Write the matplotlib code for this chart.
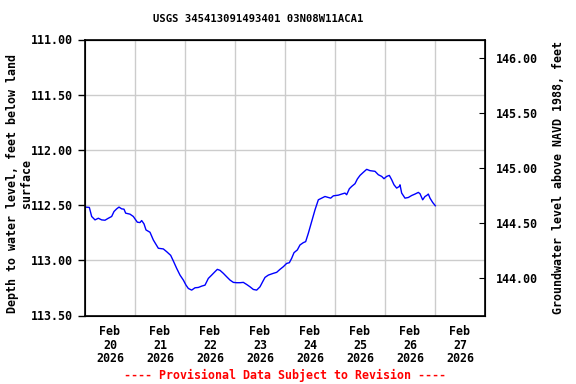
import matplotlib
matplotlib.use("Agg")
import matplotlib.pyplot as plt
import pandas as pd

title = "USGS 345413091493401 03N08W11ACA1"
start = "2026-02-20"
hours = [0.16, 2.08, 3.2, 4.8, 6.4, 8.0, 9.6, 11.2, 12.8, 13.92, 15.2, 16.32, 17.6, 18.72,
         19.52, 21.6, 23.2, 24.0, 25.12, 26.4, 27.2, 28.32, 29.28, 31.2, 32.8, 35.2, 37.6,
         39.2, 41.12, 42.4, 44.0, 45.6, 47.2, 48.48, 49.6, 51.2, 52.8, 54.4, 56.0, 57.6,
         59.2, 60.8, 62.4, 63.52, 64.8, 66.4, 68.0, 69.6, 71.2, 72.8, 74.4, 76.0, 77.6,
         79.2, 80.8, 82.4, 84.0, 85.28, 86.4, 88.0, 90.4, 92.0, 93.6, 95.2, 96.8, 98.08,
         99.2, 100.32, 101.92, 103.2, 104.8, 105.92, 107.2, 108.8, 110.4, 112.0, 113.6,
         115.2, 116.8, 117.92, 119.2, 121.6, 123.2, 124.8, 125.6, 126.88, 128.0, 129.6,
         130.72, 132.0, 133.6, 135.2, 136.8, 139.2, 140.8, 142.4, 143.52, 144.8, 146.08,
         147.2, 148.32, 149.6, 150.88, 151.2, 152.0, 153.6, 155.2, 156.8, 158.4, 160.0,
         160.8, 162.08, 163.2, 164.0, 164.8, 165.6, 166.88, 168.16]
depth = [112.518, 112.521, 112.603, 112.634, 112.619, 112.634, 112.637, 112.619, 112.603,
         112.558, 112.534, 112.518, 112.534, 112.537, 112.573, 112.582, 112.603, 112.625,
         112.655, 112.658, 112.640, 112.670, 112.725, 112.746, 112.816, 112.891, 112.897,
         112.922, 112.955, 113.006, 113.073, 113.134, 113.179, 113.225, 113.255, 113.270,
         113.249, 113.246, 113.234, 113.225, 113.164, 113.134, 113.103, 113.082, 113.091,
         113.118, 113.149, 113.179, 113.200, 113.203, 113.203, 113.200, 113.219, 113.240,
         113.264, 113.270, 113.240, 113.194, 113.155, 113.134, 113.118, 113.109, 113.082,
         113.058, 113.028, 113.022, 112.982, 112.931, 112.906, 112.861, 112.840, 112.831,
         112.755, 112.649, 112.543, 112.452, 112.437, 112.422, 112.431, 112.437, 112.416,
         112.410, 112.400, 112.391, 112.406, 112.352, 112.331, 112.306, 112.264, 112.231,
         112.203, 112.176, 112.188, 112.194, 112.225, 112.240, 112.261, 112.240, 112.231,
         112.270, 112.316, 112.346, 112.331, 112.316, 112.391, 112.437, 112.431, 112.413,
         112.400, 112.385, 112.397, 112.452, 112.422, 112.413, 112.400, 112.437, 112.476,
         112.506]
left_ticks = [111.0, 111.5, 112.0, 112.5, 113.0, 113.5]
right_ticks = [144.0, 144.5, 145.0, 145.5, 146.0]
datum_offset = 257.164
day_labels = ["Feb\n20\n2026", "Feb\n21\n2026", "Feb\n22\n2026", "Feb\n23\n2026",
              "Feb\n24\n2026", "Feb\n25\n2026", "Feb\n26\n2026", "Feb\n27\n2026"]
ylabel_left = "Depth to water level, feet below land\nsurface"
ylabel_right = "Groundwater level above NAVD 1988, feet"
footer = "---- Provisional Data Subject to Revision ----"

font = dict(family="DejaVu Sans Mono", weight="bold", size=8.4)

t0 = pd.Timestamp(start)
times = [t0 + pd.Timedelta(hours=h) for h in hours]

fig = plt.figure(figsize=(5.76, 3.84), dpi=100)
ax = fig.add_axes([85/576, 1 - 315.5/384, 400/576, 276/384])
ax.plot(times, depth, color="#0000ff", lw=1.0)

ax.set_ylim(113.5, 111.0)
ax.set_yticks(left_ticks)
ax.set_yticklabels([f"{v:.2f}" for v in left_ticks], **font)
ax.set_xlim(t0, t0 + pd.Timedelta(days=8))
noon = [t0 + pd.Timedelta(days=i, hours=12) for i in range(8)]
mid = [t0 + pd.Timedelta(days=i) for i in range(1, 8)]
ax.set_xticks(noon)
ax.set_xticklabels(day_labels, linespacing=1.05, **font)
ax.set_xticks(mid, minor=True)
ax.tick_params(axis="x", which="both", length=0, pad=7)
ax.tick_params(axis="y", length=5, width=1)
ax.grid(True, axis="y", which="major", color="#cccccc", lw=1)
ax.grid(True, axis="x", which="minor", color="#cccccc", lw=1)
ax.set_axisbelow(True)
for s in ax.spines.values():
    s.set_linewidth(1.2)

ax.set_ylabel(ylabel_left, linespacing=1.05, **font)
ax.yaxis.set_label_coords(-0.13, 0.478)

ax2 = ax.twinx()
ax2.set_ylim(datum_offset - 113.5, datum_offset - 111.0)
ax2.set_yticks(right_ticks)
ax2.set_yticklabels([f"{v:.2f}" for v in right_ticks], **font)
ax2.tick_params(axis="y", direction="in", length=4, pad=8)
ax2.set_ylabel(ylabel_right, labelpad=10, **font)

fig.text(258.5/576, 1 - 19/384, title, ha="center", va="center",
         family="DejaVu Sans Mono", weight="bold", size=7.6)
fig.text(285/576, 1 - 375/384, footer, ha="center", va="center", color="#ff0000", **font)

fig.savefig("out.png", dpi=100)
